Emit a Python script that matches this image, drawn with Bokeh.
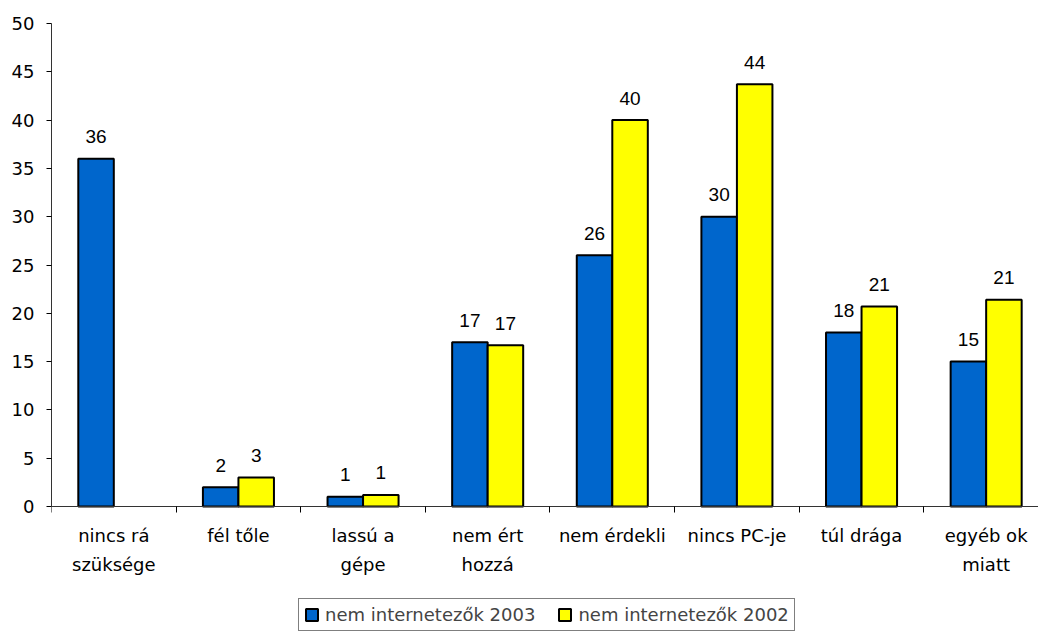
import math
from bokeh.plotting import figure
from bokeh.models import (ColumnDataSource, Range1d, FixedTicker, Legend, LegendItem)
from bokeh.core.properties import value
from bokeh.embed import file_html
from bokeh.resources import INLINE

categories = ["nincs rá\nszüksége", "fél tőle", "lassú a\ngépe", "nem ért\nhozzá",
              "nem érdekli", "nincs PC-je", "túl drága", "egyéb ok\nmiatt"]
series_2003 = [36, 2, 1, 17, 26, 30, 18, 15]
series_2002 = [float("nan"), 3.0, 1.2, 16.7, 40.0, 43.7, 20.7, 21.4]
series_names = ["nem internetezők 2003", "nem internetezők 2002"]
y_ticks = [0, 5, 10, 15, 20, 25, 30, 35, 40, 45, 50]

BLUE = "#0066CC"
YELLOW = "#FFFF00"
SANS = "DejaVu Sans"
LABEL_FONT = "Liberation Sans"

n = len(categories)
centers = [i + 0.5 for i in range(n)]
bw = 0.285

def fmt(v):
    return "" if (v is None or (isinstance(v, float) and math.isnan(v))) else f"{v:.0f}"

src_a = ColumnDataSource(dict(x=[c - bw / 2 for c in centers], top=series_2003,
                              lab=[fmt(v) for v in series_2003]))
yv = [0 if math.isnan(v) else v for v in series_2002]
src_b = ColumnDataSource(dict(x=[c + bw / 2 for c in centers], top=series_2002,
                              ty=yv, lab=[fmt(v) for v in series_2002]))

H = 632
TOP = 23
ZERO = 506
y_low = -(H - ZERO) / ((ZERO - TOP) / 50.0)

p = figure(width=1038, height=H, x_range=Range1d(0, 7.92), y_range=Range1d(y_low, 50),
           output_backend="svg", toolbar_location=None,
           min_border_left=51, min_border_top=TOP, min_border_bottom=0, min_border_right=0)
p.outline_line_color = None
p.xgrid.visible = False
p.ygrid.visible = False
p.background_fill_color = "white"
p.border_fill_color = "white"

r_a = p.vbar(x="x", top="top", bottom=0, width=bw, source=src_a, fill_color=BLUE,
             line_color="black", line_width=2)
r_b = p.vbar(x="x", top="top", bottom=0, width=bw, source=src_b, fill_color=YELLOW,
             line_color="black", line_width=2)

p.text(x="x", y="top", text="lab", source=src_a, text_align="center",
       text_baseline="alphabetic", y_offset=-22, text_font=value(LABEL_FONT),
       text_font_size="19px", text_color="black")
p.text(x="x", y="ty", text="lab", source=src_b, text_align="center",
       text_baseline="alphabetic", y_offset=-22, text_font=value(LABEL_FONT),
       text_font_size="19px", text_color="black")

# y axis
ya = p.yaxis[0]
ya.ticker = FixedTicker(ticks=y_ticks, minor_ticks=[])
ya.bounds = (0, 50)
ya.axis_line_color = "#333333"
ya.major_tick_line_color = "black"
ya.major_tick_out = 5
ya.major_tick_in = 0
ya.minor_tick_out = 0
ya.minor_tick_in = 0
ya.major_label_text_font = SANS
ya.major_label_text_font_size = "18px"
ya.major_label_text_color = "black"
ya.major_label_standoff = 12

# x axis, drawn at value 0 inside the frame
xa = p.xaxis[0]
xa.fixed_location = 0
xa.ticker = FixedTicker(ticks=centers, minor_ticks=list(range(n + 1)))
xa.major_label_overrides = {c: lab for c, lab in zip(centers, categories)}
xa.axis_line_color = "#333333"
xa.major_tick_out = 0
xa.major_tick_in = 0
xa.minor_tick_out = 6
xa.minor_tick_in = 0
xa.minor_tick_line_color = "black"
xa.major_label_text_font = SANS
xa.major_label_text_font_size = "18px"
xa.major_label_text_color = "black"
xa.major_label_text_line_height = 1.4
xa.major_label_standoff = 12

legend = Legend(items=[LegendItem(label=series_names[0], renderers=[r_a]),
                       LegendItem(label=series_names[1], renderers=[r_b])],
                location=(247, 1), orientation="horizontal",
                border_line_color="black", border_line_width=1,
                background_fill_color="white", background_fill_alpha=1,
                label_text_font=SANS, label_text_font_size="18px",
                glyph_width=15, glyph_height=15, label_standoff=6,
                spacing=22, padding=5, margin=0)
p.add_layout(legend)

open("out.html", "w").write(file_html(p, INLINE))
